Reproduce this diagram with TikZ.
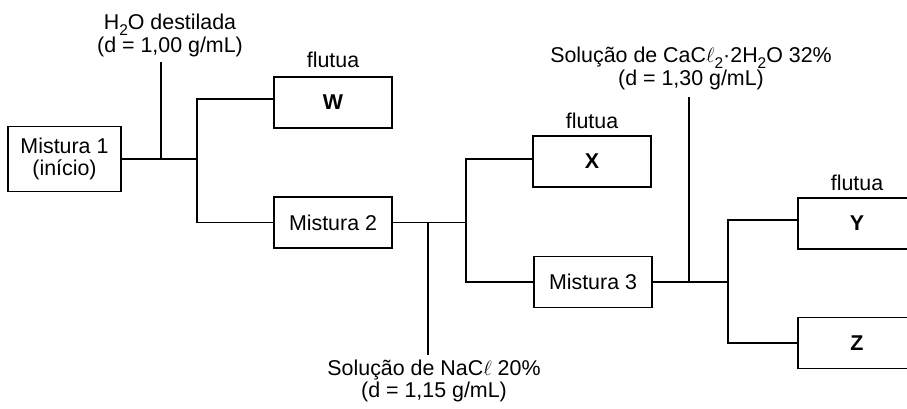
\documentclass[tikz,border=0pt]{standalone}
\usepackage{fontspec}
\setmainfont{Liberation Sans}
\newcommand\chemsub[1]{\raisebox{-0.3em}{\fontsize{15.5}{15.5}\selectfont #1}}
\begin{document}
\begin{tikzpicture}[x=1pt,y=-1pt,line width=1.2pt,
  every node/.style={font=\fontsize{21.4}{22}\selectfont},
  box/.style={draw,line width=1.2pt,minimum width=118pt,minimum height=51pt,inner sep=0pt},
  lbl/.style={align=center,inner sep=0pt,anchor=base,font=\fontsize{21.4}{21.5}\selectfont},
  flut/.style={anchor=south,inner sep=0pt}]
\useasboundingbox (0,0) rectangle (907,408);
\clip (0,0) rectangle (907,408);
% boxes
\node[box,minimum width=113pt,minimum height=65pt,align=center] (m1) at (64.5,159) {Mistura 1\\(início)};
\node[box] (w) at (333,102.5) {\textbf{W}};
\node[box] (m2) at (333,222.5) {Mistura 2};
\node[box] (x) at (592,161.5) {\textbf{X}};
\node[box] (m3) at (593,282) {Mistura 3};
\node[box] (y) at (857,223.5) {\textbf{Y}};
\node[box] (z) at (857,343) {\textbf{Z}};
% flutua labels
\node[flut] (fw) at ([yshift=8pt]w.north) {flutua};
\node[flut] (fx) at ([yshift=6pt]x.north) {flutua};
\node[flut] (fy) at ([yshift=6pt]y.north) {flutua};
% reagent labels (anchor = baseline of last line)
\node[lbl] (h2o) at (170,52) {H\chemsub{2}O destilada\\(d = 1,00 g/mL)};
\node[lbl] (nacl) at (434,397) {Solução de NaC$\ell$ 20\%\\(d = 1,15 g/mL)};
\node[lbl] (cacl) at (691,85) {Solução de CaC$\ell$\chemsub{2}·2H\chemsub{2}O 32\%\\(d = 1,30 g/mL)};
% junction coordinates
\coordinate (j1) at (161,159);
\coordinate (t1) at (161,62);
\coordinate (b1) at (197,159);
\coordinate (j2) at (428,222.5);
\coordinate (t2) at (428,355);
\coordinate (b2) at (466,222.5);
\coordinate (j3) at (689,282);
\coordinate (t3) at (689,97);
\coordinate (b3) at (728,282);
% connectors
\draw (m1.east) -- (b1);
\draw (t1) -- (j1);
\draw ([yshift=3.5pt]w.west) -| (b1) |- (m2.west);
\draw (m2.east) -- (b2);
\draw (j2) -- (t2);
\draw ([yshift=2.5pt]x.west) -| (b2) |- (m3.west);
\draw (m3.east) -- (b3);
\draw (t3) -- (j3);
\draw ([yshift=3.5pt]y.west) -| (b3) |- (z.west);
\end{tikzpicture}
\end{document}
